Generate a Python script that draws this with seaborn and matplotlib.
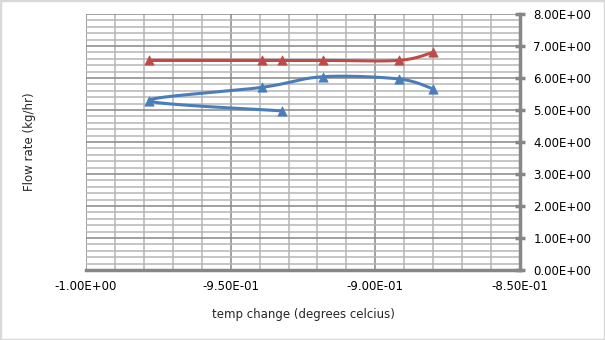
import numpy as np
import pandas as pd
import matplotlib
matplotlib.use("Agg")
import matplotlib.pyplot as plt
import seaborn as sns
from matplotlib.ticker import MultipleLocator, FuncFormatter

# ---- data ----
temp_change = [-0.9321, -0.9782, -0.9390, -0.9182, -0.8919, -0.8801]
flow_blue = [4.97, 5.29, 5.71, 6.04, 5.97, 5.66]
flow_red = [6.55, 6.55, 6.55, 6.55, 6.55, 6.80]
x_ticks = [-1.00, -0.95, -0.90, -0.85]
y_ticks = [0, 1, 2, 3, 4, 5, 6, 7, 8]

sns.set_theme(style="white")
plt.rcParams['font.family'] = ['DejaVu Sans']

W, H = 605, 340
fig = plt.figure(figsize=(W / 100, H / 100), dpi=100)
L, R, T, B = 86, 520, 14, 270
ax = fig.add_axes([L / W, 1 - B / H, (R - L) / W, (B - T) / H])

xmin, xmax, ymin, ymax = -1.0, -0.85, 0.0, 8.0
sx = (R - L) / (xmax - xmin)
sy = (B - T) / (ymax - ymin)


def smooth(xs, ys, n=30):
    """Excel-like smoothed line (Catmull-Rom in screen space)."""
    P = np.column_stack([np.asarray(xs) * sx, np.asarray(ys) * sy])
    out = []
    for i in range(len(P) - 1):
        p0 = P[i - 1] if i > 0 else P[i]
        p1, p2 = P[i], P[i + 1]
        p3 = P[i + 2] if i + 2 < len(P) else P[i + 1]
        c1 = p1 + (p2 - p0) / 6
        c2 = p2 - (p3 - p1) / 6
        t = np.linspace(0, 1, n)[:, None]
        seg = ((1 - t) ** 3) * p1 + 3 * ((1 - t) ** 2) * t * c1 + 3 * (1 - t) * t ** 2 * c2 + t ** 3 * p2
        out.append(seg if i == 0 else seg[1:])
    S = np.vstack(out)
    return S[:, 0] / sx, S[:, 1] / sy


blue = "#4A7EBB"
red = "#BE4B48"

for ys, col in [(flow_blue, blue), (flow_red, red)]:
    cx, cy = smooth(temp_change, ys)
    sns.lineplot(x=cx, y=cy, sort=False, ax=ax, color=col, lw=2.2, zorder=3)
    sns.scatterplot(x=temp_change, y=ys, ax=ax, color=col, marker="^", s=45,
                    edgecolor=col, linewidth=0.5, zorder=4)

ax.set_xlim(xmin, xmax)
ax.set_ylim(ymin, ymax)

ax.xaxis.set_major_locator(MultipleLocator(0.05))
ax.xaxis.set_minor_locator(MultipleLocator(0.01))
ax.yaxis.set_major_locator(MultipleLocator(1))
ax.yaxis.set_minor_locator(MultipleLocator(0.2))
ax.set_xticks(x_ticks)
ax.set_yticks(y_ticks)
ax.xaxis.set_major_formatter(FuncFormatter(lambda v, p: f"{v:.2E}"))
ax.yaxis.set_major_formatter(FuncFormatter(lambda v, p: f"{v:.2E}"))

ax.grid(which="major", color="#878787", lw=1.1, zorder=0)
ax.grid(which="minor", color="#b5b5b5", lw=1.1, zorder=0)
ax.set_axisbelow(True)

ax.yaxis.tick_right()
ax.yaxis.set_label_position("left")
for s in ["top", "left"]:
    ax.spines[s].set_visible(False)
for s in ["bottom", "right"]:
    ax.spines[s].set_color("#878787")
    ax.spines[s].set_linewidth(2.5)
ax.tick_params(which="major", direction="inout", length=7, width=2.5, color="#878787",
               labelsize=8.5, labelcolor="black", pad=6)
ax.tick_params(which="minor", length=0)
ax.tick_params(axis="x", pad=4)

ax.set_xlabel("temp change (degrees celcius)", fontsize=8.5, labelpad=10.5)
ax.set_ylabel("Flow rate (kg/hr)", fontsize=8.5, labelpad=36)

fig.patches.append(plt.Rectangle((0, 0), 1, 1, transform=fig.transFigure, fill=False,
                                 edgecolor="#d9d9d9", lw=2.5))

fig.savefig("out.png", dpi=100)
